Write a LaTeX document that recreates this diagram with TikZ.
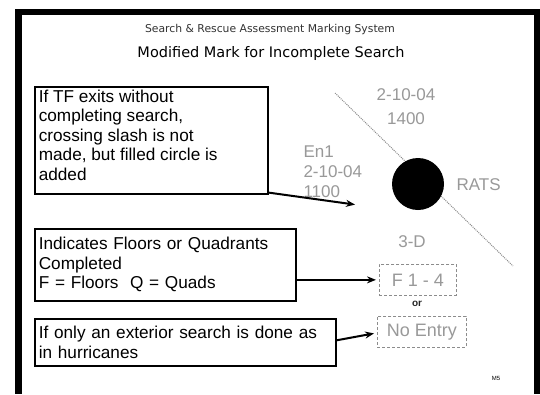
\documentclass[tikz,border=0pt]{standalone}
\usepackage{fontspec}
\setmainfont{Liberation Sans}
\newfontfamily\titlefont{DejaVu Sans}
\usetikzlibrary{arrows.meta,calc}

\tikzset{
  infobox/.style={draw, line width=1.6pt, anchor=north west, align=left,
    inner xsep=4pt, inner ysep=3pt, font=\fontsize{17.2}{19.5}\selectfont},
  painted/.style={text=black!40, font=\fontsize{17}{20}\selectfont},
  markbox/.style={draw=black!45, densely dashed, line width=0.7pt, minimum height=31pt,
    inner xsep=2pt, anchor=north west, text=black!40, font=\fontsize{18}{20}\selectfont},
  pointer/.style={->, line width=2pt, shorten >=3pt, >={Stealth[length=9pt,width=7pt]}}
}

\begin{document}
\begin{tikzpicture}[x=1pt, y=-1pt]
    \useasboundingbox (0,0) rectangle (540,394);
    % slide frame
    \fill[black] (15,9) rectangle (540,394);
    \fill[white] (22,15) rectangle (534,394);

    \node[font=\titlefont\fontsize{10.8}{13}\selectfont, text=black!80] (title) at (270,30)
        {Search \& Rescue Assessment Marking System};
    \node[font=\titlefont\fontsize{14.5}{16}\selectfont] (subtitle) at (271,53)
        {Modified Mark for Incomplete Search};

    % the mark
    \coordinate (slashtop) at (335,93);
    \coordinate (slashbot) at (513,266);
    \draw[black!45, densely dotted, line width=1pt] (slashtop) -- (slashbot);
    \node[circle, fill=black, minimum size=52pt, inner sep=0pt] (dot) at (418,184) {};
    \node[painted, align=center, font=\fontsize{17}{24}\selectfont] (exitdate) at (406,107) {2-10-04\\1400};
    \node[painted, align=left, anchor=west] (entry) at (300,172) {En1\\2-10-04\\1100};
    \node[painted, anchor=west] (rats) at (453,185) {RATS};
    \node[painted] (hazard) at (412,242) {3-D};
    \node[markbox, minimum width=77pt] (floors) at (379,264) {F 1 - 4};
    \node[font=\bfseries\fontsize{10}{11}\selectfont, text=black!85] (orword) at (417,304) {or};
    \node[markbox, minimum width=89pt] (noentry) at (377,316) {No Entry};

    % explanations
    \node[infobox] (circlenote) at (34,86)
        {\parbox[t][101pt][t]{225pt}{\raggedright If TF exits without\\completing search,\\crossing slash is not\\made, but filled circle is\\added}};
    \node[infobox, text width=253pt, minimum height=72pt] (floornote) at (34,228)
        {Indicates Floors or Quadrants\\Completed\\F = Floors\ \ Q = Quads};
    \node[infobox, text width=293pt, minimum height=47pt] (exteriornote) at (34,318)
        {If only an exterior search is done as\\in hurricanes};

    \coordinate (circletip) at (358,205);
    \draw[pointer] ($(circlenote.south east)+(0,-2)$) -- (circletip);
    \draw[pointer] (floornote.east |- floors.west) -- (floors.west);
    \draw[pointer] ($(exteriornote.east)+(0,-2)$) -- ($(noentry.west)+(0,1)$);

    \node[font=\fontsize{6}{7}\selectfont] (page) at (496,378) {M5};
\end{tikzpicture}
\end{document}
